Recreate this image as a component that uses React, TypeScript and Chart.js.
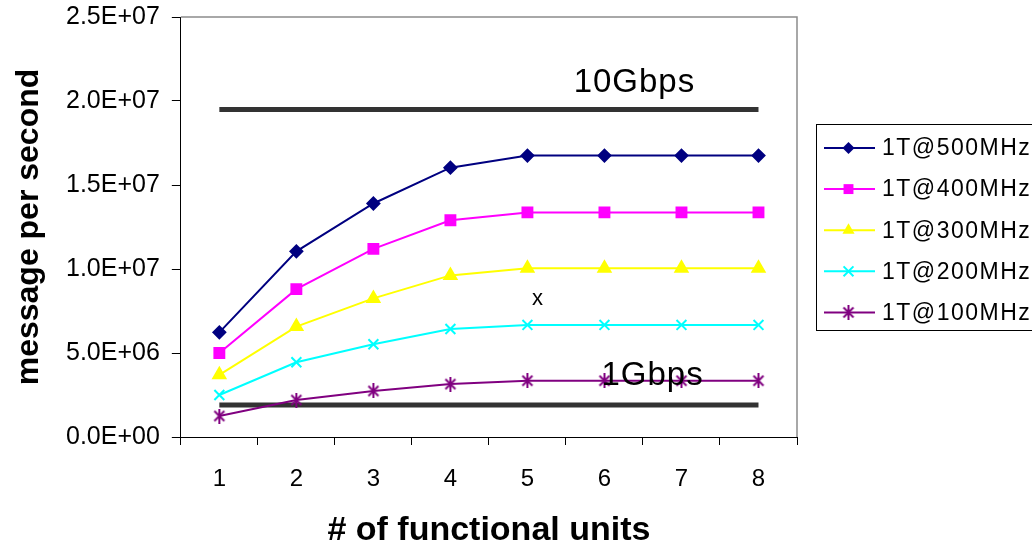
import { useEffect, useRef } from 'react';
import { Chart, registerables } from 'chart.js';

Chart.register(...registerables);

const FONT = '"Liberation Sans", Arial, sans-serif';

// x categories: number of functional units
const units = ['1', '2', '3', '4', '5', '6', '7', '8'];

// messages per second for each clock rate
const mps500 = [6.23e6, 1.105e7, 1.39e7, 1.603e7, 1.675e7, 1.675e7, 1.675e7, 1.675e7];
const mps400 = [5.0e6, 8.8e6, 1.12e7, 1.29e7, 1.337e7, 1.337e7, 1.337e7, 1.337e7];
const mps300 = [3.7e6, 6.57e6, 8.25e6, 9.62e6, 1.005e7, 1.005e7, 1.005e7, 1.005e7];
const mps200 = [2.5e6, 4.45e6, 5.52e6, 6.43e6, 6.67e6, 6.67e6, 6.67e6, 6.67e6];
const mps100 = [1.25e6, 2.2e6, 2.74e6, 3.15e6, 3.35e6, 3.35e6, 3.35e6, 3.35e6];

const seriesLabels = ['1T@500MHz', '1T@400MHz', '1T@300MHz', '1T@200MHz', '1T@100MHz'];
const seriesData = [mps500, mps400, mps300, mps200, mps100];
const seriesColors = ['#000080', '#FF00FF', '#FFFF00', '#00FFFF', '#800080'];
const seriesMarkers = ['rectRot', 'rect', 'triangle', 'crossRot', 'asterisk'];
const seriesRadius = [6, 7, 7, 7, 7];

// link-rate reference levels (messages per second)
const link10G = 1.95e7;
const link1G = 1.9e6;
const linkLabels = ['10Gbps', '1Gbps'];

// y axis range
const yMin = 0;
const yMax = 2.5e7;
const yStep = 5e6;

function sciLabel(v: number): string {
  const [m, e] = v.toExponential(1).split('e');
  const sign = e[0];
  const digits = e.slice(1).padStart(2, '0');
  return `${m}E${sign}${digits}`;
}

function makeAsterisk(color: string): HTMLCanvasElement {
  const c = document.createElement('canvas');
  c.width = 14;
  c.height = 15;
  const g = c.getContext('2d')!;
  g.strokeStyle = color;
  g.lineWidth = 2;
  g.beginPath();
  g.moveTo(2, 2.5);
  g.lineTo(12, 12.5);
  g.moveTo(12, 2.5);
  g.lineTo(2, 12.5);
  g.moveTo(7, 0);
  g.lineTo(7, 15);
  g.stroke();
  return c;
}

function drawMarker(
  ctx: CanvasRenderingContext2D,
  style: any,
  x: number,
  y: number,
  r: number,
  color: string
) {
  ctx.save();
  ctx.fillStyle = color;
  ctx.strokeStyle = color;
  ctx.lineWidth = 2;
  if (style instanceof HTMLCanvasElement) {
    ctx.drawImage(style, x - style.width / 2, y - style.height / 2);
  } else if (style === 'rectRot') {
    ctx.beginPath();
    ctx.moveTo(x, y - r);
    ctx.lineTo(x + r, y);
    ctx.lineTo(x, y + r);
    ctx.lineTo(x - r, y);
    ctx.closePath();
    ctx.fill();
  } else if (style === 'rect') {
    const s = r * Math.SQRT1_2;
    ctx.fillRect(x - s, y - s, 2 * s, 2 * s);
  } else if (style === 'triangle') {
    const h = r * Math.sin(Math.PI / 3);
    ctx.beginPath();
    ctx.moveTo(x, y - r);
    ctx.lineTo(x + h, y + r / 2);
    ctx.lineTo(x - h, y + r / 2);
    ctx.closePath();
    ctx.fill();
  } else if (style === 'crossRot') {
    const d = r * Math.SQRT1_2;
    ctx.beginPath();
    ctx.moveTo(x - d, y - d);
    ctx.lineTo(x + d, y + d);
    ctx.moveTo(x + d, y - d);
    ctx.lineTo(x - d, y + d);
    ctx.stroke();
  }
  ctx.restore();
}

export default function App() {
  const canvasRef = useRef<HTMLCanvasElement | null>(null);

  useEffect(() => {
    const canvas = canvasRef.current;
    if (!canvas) return;

    const asterisk = makeAsterisk(seriesColors[4]);
    const pointStyles: any[] = seriesMarkers.map((m) => (m === 'asterisk' ? asterisk : m));

    const seriesSets = seriesLabels.map((label, i) => ({
      label,
      data: seriesData[i],
      borderColor: seriesColors[i],
      backgroundColor: seriesColors[i],
      pointBackgroundColor: seriesColors[i],
      pointBorderColor: seriesColors[i],
      pointStyle: pointStyles[i],
      pointRadius: seriesRadius[i],
      pointBorderWidth: 2,
      borderWidth: 2,
      tension: 0,
    }));

    const linkSets = [link10G, link1G].map((v, i) => ({
      label: linkLabels[i],
      data: units.map(() => v),
      borderColor: '#333333',
      backgroundColor: '#333333',
      borderWidth: 5,
      pointRadius: 0,
      tension: 0,
    }));

    const frame = {
      id: 'frame',
      beforeDatasetsDraw(chart: any) {
        const { ctx, chartArea: a } = chart;
        ctx.save();
        ctx.strokeStyle = '#8c8c8c';
        ctx.lineWidth = 1.5;
        ctx.beginPath();
        ctx.moveTo(a.left, a.top);
        ctx.lineTo(a.right, a.top);
        ctx.lineTo(a.right, a.bottom);
        ctx.stroke();
        ctx.restore();
      },
    };

    const annotations = {
      id: 'annotations',
      afterDatasetsDraw(chart: any) {
        const { ctx } = chart;
        const xs = chart.scales.x;
        const ys = chart.scales.y;
        const step = xs.getPixelForValue(1) - xs.getPixelForValue(0);
        ctx.save();
        ctx.fillStyle = '#000';
        ctx.textAlign = 'left';
        ctx.textBaseline = 'alphabetic';
        (ctx as any).letterSpacing = '1px';
        ctx.font = `33px ${FONT}`;
        ctx.fillText(linkLabels[0], xs.getPixelForValue(4) + 0.6 * step, ys.getPixelForValue(link10G) - 17);
        ctx.fillText(linkLabels[1], xs.getPixelForValue(5) - 3, ys.getPixelForValue(link1G) - 20);
        (ctx as any).letterSpacing = '0px';
        ctx.font = `22px ${FONT}`;
        ctx.textAlign = 'center';
        ctx.textBaseline = 'middle';
        ctx.fillText('x', xs.getPixelForValue(4) + 10, ys.getPixelForValue(8.1e6) - 2);
        ctx.restore();
      },
    };

    const legendBox = {
      id: 'legendBox',
      afterDraw(chart: any) {
        const { ctx } = chart;
        const left = 816.5;
        const top = 124.5;
        const rowTop = 148;
        const rowStep = 41.1;
        ctx.save();
        ctx.strokeStyle = '#000';
        ctx.lineWidth = 1;
        ctx.strokeRect(left, top, 260, 206);
        seriesLabels.forEach((label, i) => {
          const y = rowTop + i * rowStep;
          ctx.strokeStyle = seriesColors[i];
          ctx.lineWidth = 2;
          ctx.beginPath();
          ctx.moveTo(824, y);
          ctx.lineTo(875, y);
          ctx.stroke();
          drawMarker(ctx, pointStyles[i], 848.5, y, seriesRadius[i], seriesColors[i]);
          ctx.fillStyle = '#000';
          ctx.font = `23px ${FONT}`;
          (ctx as any).letterSpacing = '1.5px';
          ctx.textAlign = 'left';
          ctx.textBaseline = 'middle';
          ctx.fillText(label, 882, y + 1);
          (ctx as any).letterSpacing = '0px';
        });
        ctx.restore();
      },
    };

    const chart = new Chart(canvas, {
      type: 'line',
      data: {
        labels: units,
        datasets: [...seriesSets, ...linkSets] as any,
      },
      options: {
        responsive: false,
        animation: false,
        layout: { padding: { top: 17, right: 235, bottom: 0, left: 0 } },
        plugins: {
          legend: { display: false },
          tooltip: { enabled: false },
        },
        scales: {
          x: {
            type: 'category',
            offset: true,
            grid: {
              offset: true,
              drawOnChartArea: false,
              drawTicks: true,
              tickLength: 8,
              color: '#000',
            },
            border: { color: '#000', width: 1 },
            ticks: {
              color: '#000',
              font: { family: FONT, size: 24, lineHeight: 1 },
              padding: 22.5,
              maxRotation: 0,
            },
            title: {
              display: true,
              text: '# of functional units',
              color: '#000',
              font: { family: FONT, size: 34, weight: 'bold', lineHeight: 1 },
              padding: { top: 0, bottom: 0 },
            },
          },
          y: {
            min: yMin,
            max: yMax,
            afterFit: (scale: any) => {
              scale.paddingTop = 0;
              scale.paddingBottom = 0;
            },
            grid: {
              drawOnChartArea: false,
              drawTicks: true,
              tickLength: 9,
              color: '#000',
            },
            border: { color: '#000', width: 1 },
            ticks: {
              stepSize: yStep,
              color: '#000',
              font: { family: FONT, size: 25 },
              padding: 12,
              callback: (v: any) => sciLabel(Number(v)),
            },
            title: {
              display: true,
              text: 'message per second',
              color: '#000',
              font: { family: FONT, size: 32, weight: 'bold', lineHeight: 1 },
              padding: { top: 13, bottom: 9 },
            },
          },
        },
      },
      plugins: [frame, annotations, legendBox],
    });

    return () => chart.destroy();
  }, []);

  return (
    <div style={{ position: 'fixed', left: 0, top: 0, width: 1032, height: 548, background: '#fff' }}>
      <canvas ref={canvasRef} width={1032} height={548} style={{ display: 'block' }} />
    </div>
  );
}
